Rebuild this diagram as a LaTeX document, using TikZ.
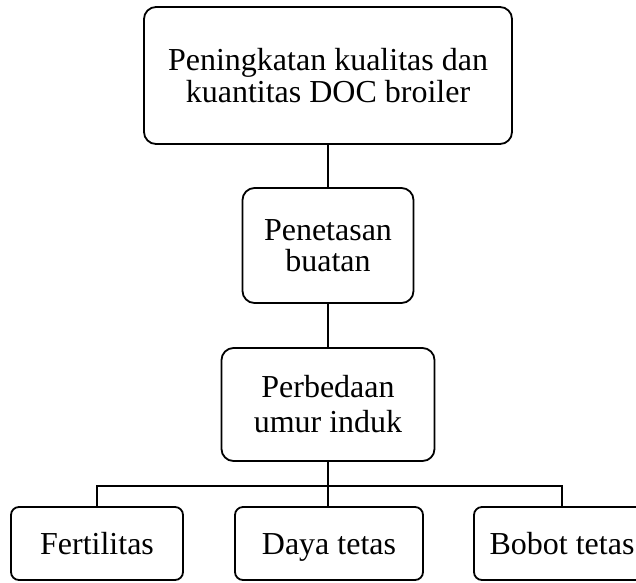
\documentclass[tikz,border=0pt]{standalone}
\usepackage{fontspec}
\setmainfont{Liberation Serif}
\usepackage{tikz}
\usetikzlibrary{positioning}

\tikzset{
  kotak/.style={draw,line width=1.8pt,rounded corners=12pt,align=center,inner sep=0pt,
    font=\fontsize{32}{31.5}\selectfont},
  kotakbawah/.style={kotak,rounded corners=8pt,minimum height=73pt,text height=21pt,text depth=0pt},
  garis/.style={line width=1.8pt}
}

\begin{document}
\begin{tikzpicture}[x=1pt,y=-1pt]
\clip (0,0) rectangle (636,582);
   \node[kotak,minimum width=368pt,minimum height=137pt] (atas) at (328,75.5)
     {Peningkatan kualitas dan\\kuantitas DOC broiler};
   \node[kotak,minimum width=171pt,minimum height=115pt] (tetas) at (328,245.5)
     {Penetasan\\buatan};
   \node[kotak,minimum width=213pt,minimum height=113pt,font=\fontsize{32}{35}\selectfont] (umur) at (328,404.5)
     {Perbedaan\\umur induk};
   % hasil
   \node[kotakbawah,minimum width=172pt] (fert) at (97,543.5) {Fertilitas};
   \node[kotakbawah,minimum width=188pt] (daya) at (329,543.5) {Daya tetas};
   \node[kotakbawah,minimum width=176pt] (bobot) at (562,543.5) {Bobot tetas};
   \coordinate (cabang) at (328,486);
   \draw[garis] (atas) -- (tetas);
   \draw[garis] (tetas) -- (umur);
   \draw[garis,line width=2.6pt] (umur) -- (cabang);
   \draw[garis] (fert.north) |- (cabang) -| (bobot.north);
   \draw[garis] (cabang) -- (cabang |- daya.north);
\end{tikzpicture}
\end{document}
